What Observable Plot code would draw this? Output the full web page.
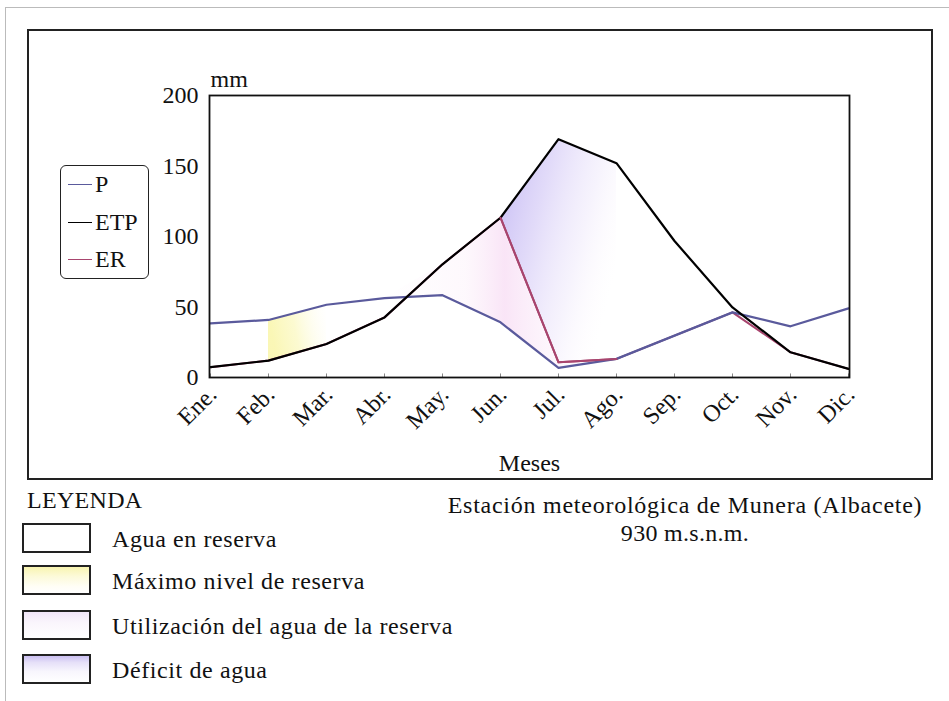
<!DOCTYPE html>
<html><head><meta charset="utf-8">
<script src="https://cdn.jsdelivr.net/npm/d3@7"></script>
<script src="https://cdn.jsdelivr.net/npm/@observablehq/plot@0.6"></script>
<style>
body{margin:0;background:#fff;font-family:"Liberation Serif","Times New Roman",serif;color:#111;}
#wrap{position:relative;width:949px;height:701px;overflow:hidden;background:#fff;}
#chart{position:absolute;left:0;top:0;}
.outer{position:absolute;left:5px;top:7px;width:960px;height:720px;border-left:1.5px solid #bbb;border-top:1.5px solid #bbb;pointer-events:none;}
.box{position:absolute;left:27px;top:29px;width:906px;height:451px;border:2px solid #222;box-sizing:border-box;pointer-events:none;}
.leg{position:absolute;left:60px;top:165px;width:89px;height:114px;border:1.6px solid #222;border-radius:6px;box-sizing:border-box;background:#fff;}
.li{position:absolute;left:7px;height:0;width:24px;border-top:1.6px solid #000;}
.lt{position:absolute;left:34px;font-size:24px;line-height:24px;}
.t{position:absolute;font-size:24px;line-height:24px;white-space:nowrap;letter-spacing:0.6px;}
.sw{position:absolute;left:22px;width:69px;height:30px;border:2px solid #222;box-sizing:border-box;}
</style></head>
<body><div id="wrap"><div class="outer"></div><div id="chart"></div><div class="box"></div>
<div class="leg" id="leg"></div>
<div id="bottom"></div>
</div>
<script>
const months = ["Ene.","Feb.","Mar.","Abr.","May.","Jun.","Jul.","Ago.","Sep.","Oct.","Nov.","Dic."];
const P   = [38.4, 40.8, 51.6, 56.3, 58.4, 39.1, 6.8, 13.2, 29.7, 46.2, 36.3, 49.0];
const ETP = [7.3, 12.0, 23.8, 42.6, 80.3, 113.3, 169.0, 152.0, 96.8, 49.7, 17.9, 6.1];
const ER  = [7.3, 12.0, 23.8, 42.6, 80.3, 113.3, 10.8, 13.2, 29.7, 46.2, 17.9, 6.1];
const yTicks = [0, 50, 100, 150, 200];
const reserveMaxMonths = ["Feb.","Mar."];
const reserveUseMonths = ["Abr.","May.","Jun.","Jul.","Ago."];
const deficitMonths = ["Jun.","Jul.","Ago."];
const erVisibleMonths = ["Jun.","Jul.","Ago."];
const seriesNames = ["P","ETP","ER"];
const seriesColors = ["#5a5a9c","#000000","#a8456e"];
const legendItems = ["Agua en reserva","Máximo nivel de reserva","Utilización del agua de la reserva","Déficit de agua"];
const legendFills = [
  "#ffffff",
  "linear-gradient(to bottom,#f8f4b0 0%,#fcfad8 35%,#fffef6 75%,#fff 100%)",
  "linear-gradient(to bottom,#f1e6f9 0%,#faf5fc 40%,#fff 100%)",
  "linear-gradient(to bottom,#cbc0f2 0%,#e6e0f8 25%,#f8f6fd 60%,#fff 100%)"
];
const stationTitle = "Estación meteorológica de Munera (Albacete)";
const stationAlt = "930 m.s.n.m.";

const rows = months.map((m, i) => ({month: m, P: P[i], ETP: ETP[i], ER: ER[i], ERtop: Math.max(P[i], ER[i])}));

const defs = () => {
  const d = d3.create("svg:defs");
  const add = (id, x1, y1, x2, y2, stops) => {
    const g = d.append("linearGradient").attr("id", id).attr("x1", x1).attr("y1", y1).attr("x2", x2).attr("y2", y2);
    stops.forEach(([o, c, a]) => g.append("stop").attr("offset", o).attr("stop-color", c).attr("stop-opacity", a));
  };
  add("gYellow", 0, 0.2, 1, 0, [["0%", "#f6f07a", 0.55], ["40%", "#f8f498", 0.45], ["100%", "#fffbe0", 0]]);
  add("gPink", 0, 0, 1, 0, [["0%", "#f7d6f2", 0], ["35%", "#f6d2f0", 0.15], ["52%", "#f2c4ec", 0.45], ["70%", "#f6d6f2", 0.25], ["100%", "#fbeefa", 0.05]]);
  add("gPurple", 0, 0.1, 1, 0.6, [["0%", "#ae9fef", 0.7], ["35%", "#c4b6f3", 0.5], ["70%", "#e2d8f8", 0.3], ["100%", "#fbf2fb", 0]]);
  return d.node();
};

const chart = Plot.plot({
  width: 949, height: 480,
  marginLeft: 209, marginRight: 100, marginTop: 95, marginBottom: 103,
  style: {fontFamily: "Liberation Serif, Times New Roman, serif", fontSize: "24px", color: "#111", background: "transparent", overflow: "visible"},
  x: {type: "point", domain: months, padding: 0},
  y: {domain: [0, 200]},
  marks: [
    defs,
    Plot.areaY(rows.filter(d => reserveMaxMonths.includes(d.month)), {x: "month", y1: "ETP", y2: "P", fill: "url(#gYellow)"}),
    Plot.areaY(rows.filter(d => reserveUseMonths.includes(d.month)), {x: "month", y1: "P", y2: "ERtop", fill: "url(#gPink)"}),
    Plot.areaY(rows.filter(d => deficitMonths.includes(d.month)), {x: "month", y1: "ER", y2: "ETP", fill: "url(#gPurple)"}),
    Plot.ruleX(months, {x: d => d, y1: 0, y2: 2.5, stroke: "#888", strokeWidth: 1}),
    Plot.lineY(rows, {x: "month", y: "ER", stroke: seriesColors[2], strokeWidth: 2}),
    Plot.lineY(rows, {x: "month", y: "P", stroke: seriesColors[0], strokeWidth: 2.2}),
    Plot.lineY(rows, {x: "month", y: "ETP", stroke: seriesColors[1], strokeWidth: 2.2}),
    Plot.lineY(rows.filter(d => erVisibleMonths.includes(d.month)), {x: "month", y: "ER", stroke: seriesColors[2], strokeWidth: 2}),
    Plot.frame({stroke: "#111", strokeWidth: 1.8}),
    Plot.axisY({ticks: yTicks, tickSize: 0, tickPadding: 11, label: null}),
    Plot.axisX({tickRotate: -45, tickSize: 0, tickPadding: 13, dx: 2, label: null}),
    Plot.text(["mm"], {frameAnchor: "top-left", textAnchor: "start", lineAnchor: "bottom", dx: 1, dy: -9}),
    Plot.text(["Meses"], {frameAnchor: "bottom", lineAnchor: "bottom", dy: 93})
  ]
});
document.getElementById("chart").appendChild(chart);

const leg = document.getElementById("leg");
const legY = [18, 56, 93];
seriesNames.forEach((n, i) => {
  const l = document.createElement("div"); l.className = "li";
  l.style.top = legY[i] + "px"; l.style.borderTopColor = seriesColors[i];
  leg.appendChild(l);
  const t = document.createElement("div"); t.className = "lt";
  t.style.top = (legY[i] - 12) + "px"; t.textContent = n;
  leg.appendChild(t);
});

const bottom = document.getElementById("bottom");
const addText = (txt, left, top, extra) => {
  const t = document.createElement("div"); t.className = "t"; t.textContent = txt;
  t.style.left = left + "px"; t.style.top = top + "px";
  if (extra) Object.assign(t.style, extra);
  bottom.appendChild(t); return t;
};
addText("LEYENDA", 27, 488, {letterSpacing: "0.3px"});
const swTop = [523, 565, 610, 654];
const txTop = [527, 569, 614, 658];
legendItems.forEach((it, i) => {
  const s = document.createElement("div"); s.className = "sw";
  s.style.top = swTop[i] + "px"; s.style.background = legendFills[i];
  bottom.appendChild(s);
  addText(it, 112, txTop[i]);
});
addText(stationTitle, 445, 493, {width: "480px", textAlign: "center", letterSpacing: "0.75px"});
addText(stationAlt, 445, 521, {width: "480px", textAlign: "center", letterSpacing: "0.3px"});
</script>
</body></html>
